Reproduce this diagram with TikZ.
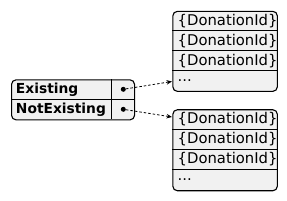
\documentclass[tikz,border=0pt]{standalone}
\usepackage{fontspec}
\setmainfont{DejaVu Sans}
\usetikzlibrary{arrows.meta}
\definecolor{boxfill}{HTML}{F1F1F1}
\begin{document}
\begin{tikzpicture}[x=1pt,y=-1pt,
  box/.style={draw=black, line width=1.1pt, fill=boxfill, rounded corners=4.5pt, inner sep=0pt, anchor=north west},
  divider/.style={draw=black, line width=0.9pt},
  rowtext/.style={anchor=west, inner sep=0pt, font=\fontsize{14.8}{16}\selectfont},
  keytext/.style={anchor=west, inner sep=0pt, font=\fontsize{13.8}{16}\selectfont\bfseries},
  dotmark/.style={circle, fill=black, inner sep=0pt, minimum size=5pt},
  link/.style={dashed, dash pattern=on 2.5pt off 2pt, line width=0.8pt, -{Stealth[length=5.5pt,width=4.5pt]}}]
\useasboundingbox (0,0) rectangle (287,201);
% left map box
\node[box, minimum width=123pt, minimum height=40pt] (map) at (11,79.3) {};
\draw[divider] (11,99.3) -- (134,99.3);
\draw[divider] (111,79.3) -- (111,119.3);
\node[keytext] (k1) at (15.8,89.5) {Existing};
\node[keytext] (k2) at (15.8,109.3) {NotExisting};
\node[dotmark] (d1) at (123.3,89.3) {};
\node[dotmark] (d2) at (123.3,109.3) {};
% top list
\node[box, minimum width=104.5pt, minimum height=80pt] (list1) at (172.3,10.8) {};
\foreach \yy in {30.5,50.6,70.7} \draw[divider] (172.3,\yy) -- (276.8,\yy);
\node[rowtext] (a1) at (177.5,20.7) {\{DonationId\}};
\node[rowtext] (a2) at (177.5,40.7) {\{DonationId\}};
\node[rowtext] (a3) at (177.5,60.7) {\{DonationId\}};
\node[rowtext] (a4) at (177.5,80.7) {...};
% bottom list
\node[box, minimum width=104.5pt, minimum height=81pt] (list2) at (172.3,109.2) {};
\foreach \yy in {129.4,149.5,169.8} \draw[divider] (172.3,\yy) -- (276.8,\yy);
\node[rowtext] (b1) at (177.5,119.3) {\{DonationId\}};
\node[rowtext] (b2) at (177.5,139.4) {\{DonationId\}};
\node[rowtext] (b3) at (177.5,159.5) {\{DonationId\}};
\node[rowtext] (b4) at (177.5,180.0) {...};
% connectors
\coordinate (e1) at (172.0,81.5);
\coordinate (e2) at (172.0,117.0);
\draw[link] (d1) -- (e1);
\draw[link] (d2) -- (e2);
\end{tikzpicture}
\end{document}
